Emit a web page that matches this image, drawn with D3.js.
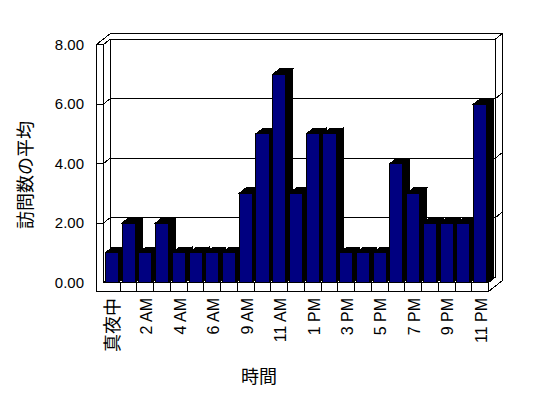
<!DOCTYPE html>
<html><head><meta charset="utf-8">
<script src="https://cdn.jsdelivr.net/npm/d3@7"></script>
<style>body{margin:0;background:#fff}svg{display:block}</style>
</head><body><svg id="c" width="548" height="398"></svg>
<script>
const categories = ["真夜中","1 AM","2 AM","3 AM","4 AM","5 AM","6 AM","8 AM","9 AM","10 AM","11 AM","12 PM","1 PM","2 PM","3 PM","4 PM","5 PM","6 PM","7 PM","8 PM","9 PM","10 PM","11 PM"];
const values = [1,2,1,2,1,1,1,1,3,5,7,3,5,5,1,1,1,4,3,2,2,2,6];
const yTicks = [0,2,4,6,8];
const yTickLabels = ["0.00","2.00","4.00","6.00","8.00"];
const yTitle = "訪問数の平均";
const xTitle = "時間";

const svg = d3.select("#c");
const latin = "'Liberation Sans', Arial, sans-serif";
const cjkFont = "'Noto Sans CJK JP', sans-serif";

// layout
const wallOuter = 96.5, X0 = 103.5, X1 = 488.5;
const floorTop = 282.5, floorBottom = 291.5, yTopFront = 44.5;
const Dx = 7, Dy = -5.5;

const x = d3.scaleBand().domain(categories).range([X0, X1]).padding(0);
const y = d3.scaleLinear().domain([0, 8]).range([floorTop, yTopFront]);

const g = svg.append("g").attr("shape-rendering", "crispEdges");
const line = (d) => g.append("path").attr("d", d).attr("fill", "none").attr("stroke", "#000").attr("stroke-width", 1);

// box outline
const top8 = y(8);
g.append("path")
  .attr("d", `M${wallOuter},${floorBottom} V${top8} L${wallOuter+2*Dx},${top8+2*Dy} H${X1+2*Dx} V${floorBottom+2*Dy} L${X1},${floorBottom} Z`)
  .attr("fill", "#fff").attr("stroke", "#000");
line(`M${X0},${top8} V${floorTop}`);
line(`M${wallOuter},${top8} H${X0} L${X0+Dx},${top8+Dy} H${X1+Dx} L${X1+2*Dx},${top8+2*Dy}`);
line(`M${X0+Dx},${top8+Dy} V${y(0)+Dy} H${X1+Dx} V${top8+Dy}`);
line(`M${X0},${floorTop} H${X1} V${floorBottom}`);
line(`M${X0},${floorTop} L${X0+Dx},${floorTop+Dy}`);
line(`M${X1},${floorTop} L${X1+Dx},${floorTop+Dy}`);

// gridlines
yTicks.filter(v => v > 0 && v < 8).forEach(v => {
  const yy = y(v);
  line(`M${wallOuter},${yy} H${X0} L${X0+Dx},${yy+Dy} H${X1+Dx} L${X1+2*Dx},${yy+2*Dy}`);
});

// floor category ticks
categories.forEach((c, i) => {
  if (i === 0) return;
  const xx = x(c);
  line(`M${xx},${floorTop} V${floorBottom}`);
});

// bars
const bw = x.bandwidth() * 0.78;
categories.forEach((c, i) => {
  const v = values[i];
  const cx = x(c) + x.bandwidth() / 2;
  const a = cx - bw / 2, b = cx + bw / 2;
  const yt = y(v), y0 = y(0);
  g.append("path")
    .attr("d", `M${b},${yt} L${b+Dx},${yt+Dy} V${y0+Dy} L${b},${y0} Z`)
    .attr("fill", "#000").attr("stroke", "#000");
  g.append("path")
    .attr("d", `M${a},${yt} L${a+Dx},${yt+Dy} H${b+Dx} L${b},${yt} Z`)
    .attr("fill", "#000").attr("stroke", "#000");
  g.append("rect")
    .attr("x", a).attr("y", yt).attr("width", bw).attr("height", y0 - yt)
    .attr("fill", "#000080").attr("stroke", "#000");
});

// y tick labels
yTicks.forEach((v, i) => {
  svg.append("text")
    .attr("x", 84).attr("y", y(v)).attr("dy", "0.36em")
    .attr("text-anchor", "end")
    .attr("font-family", latin).attr("font-size", 15)
    .text(yTickLabels[i]);
});

// x labels (every other)
categories.forEach((c, i) => {
  if (i % 2 !== 0) return;
  const cx = x(c) + x.bandwidth() / 2;
  const isCjk = /[^\x00-\x7f]/.test(c);
  svg.append("text")
    .attr("transform", `translate(${cx + 1},298) rotate(-90)`)
    .attr("dy", "0.36em")
    .attr("text-anchor", "end")
    .attr("font-family", isCjk ? cjkFont : latin).attr("font-size", isCjk ? 18 : 16)
    .text(c);
});

// axis titles
svg.append("text")
  .attr("transform", "translate(26,175) rotate(-90)")
  .attr("text-anchor", "middle").attr("dy", "0.36em")
  .attr("font-family", cjkFont).attr("font-size", 18)
  .text(yTitle);
svg.append("text")
  .attr("x", 259).attr("y", 377).attr("dy", "0.36em")
  .attr("text-anchor", "middle")
  .attr("font-family", cjkFont).attr("font-size", 18)
  .text(xTitle);
</script></body></html>
